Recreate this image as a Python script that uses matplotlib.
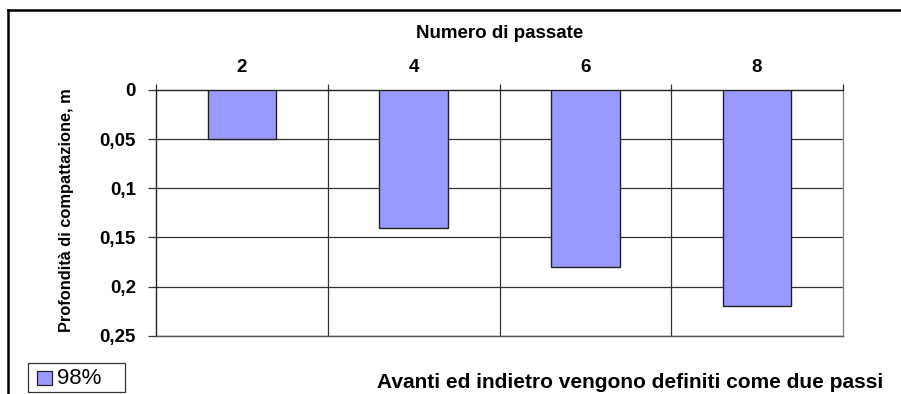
import matplotlib
matplotlib.use('Agg')
import matplotlib.pyplot as plt
from matplotlib.lines import Line2D
from matplotlib.patches import Rectangle

# Compaction depth per number of passes (98% density)
passate = ['2', '4', '6', '8']
profondita = [0.05, 0.14, 0.18, 0.22]
y_ticks = [0, 0.05, 0.1, 0.15, 0.2, 0.25]
y_labels = ['0', '0,05', '0,1', '0,15', '0,2', '0,25']
serie = '98%'

plt.rcParams['font.family'] = ['Liberation Sans', 'DejaVu Sans']

W, H = 901, 394
FS = 13.5
fig = plt.figure(figsize=(W / 100, H / 100), dpi=100)
fig.patch.set_facecolor('white')

# outer chart frame (runs off the right and bottom edges)
fig.add_artist(Line2D([8 / W, 8 / W], [0, 1 - 10 / H], color='black', lw=1.8,
                      transform=fig.transFigure))
fig.add_artist(Line2D([8 / W, 1], [1 - 10 / H, 1 - 10 / H], color='black', lw=1.8,
                      transform=fig.transFigure))

ax = fig.add_axes([156 / W, 1 - 335.7 / H, (843 - 156) / W, (335.7 - 90) / H])

x = [i + 0.5 for i in range(len(passate))]
ax.bar(x, profondita, width=0.4, color='#9999FF', edgecolor='#222222',
       linewidth=1.0, zorder=3)

ax.set_xlim(0, len(passate))
ax.set_ylim(0.25, 0)

# categories on top, tick marks only at the category boundaries
ax.xaxis.tick_top()
ax.set_xticks(x)
ax.set_xticklabels(passate, fontsize=FS, fontweight='bold')
ax.tick_params(axis='x', which='major', length=0, pad=10)
ax.set_xticks(range(len(passate) + 1), minor=True)
ax.tick_params(axis='x', which='minor', length=4, width=0.9, color='#333333',
               direction='out', top=True, bottom=False)

ax.set_yticks(y_ticks)
ax.set_yticklabels(y_labels, fontsize=FS, fontweight='bold')
ax.tick_params(axis='y', length=6, width=0.9, color='#333333', pad=8.5)

for v in y_ticks[1:]:
    ax.axhline(v, color='#333333', lw=0.9, zorder=1)
for b in range(1, len(passate)):
    ax.axvline(b, color='#333333', lw=0.9, zorder=1)

ax.spines['top'].set_color('#222222')
ax.spines['left'].set_color('#222222')
ax.spines['right'].set_color('#888888')
ax.spines['bottom'].set_color('#555555')
for s in ax.spines.values():
    s.set_linewidth(1.0)

fig.text(499.5 / W, 1 - 33 / H, 'Numero di passate', ha='center', va='center',
         fontsize=FS, fontweight='bold')
fig.text(66 / W, 1 - 210 / H, 'Profondità di compattazione, m', rotation=90,
         ha='center', va='center', fontsize=11.8, fontweight='bold')
fig.text(377 / W, 1 - 388 / H, 'Avanti ed indietro vengono definiti come due passi',
         ha='left', va='baseline', fontsize=15, fontweight='bold')

# legend box
fig.add_artist(Rectangle((28 / W, 1 - 392 / H), 97 / W, 29 / H, transform=fig.transFigure,
                         facecolor='white', edgecolor='#333333', lw=0.9))
fig.add_artist(Rectangle((37 / W, 1 - 385 / H), 15 / W, 14 / H, transform=fig.transFigure,
                         facecolor='#9999FF', edgecolor='#222222', lw=0.9))
fig.text(57 / W, 1 - 378 / H, serie, ha='left', va='center', fontsize=16)

fig.savefig('out.png', dpi=100, facecolor='white')
